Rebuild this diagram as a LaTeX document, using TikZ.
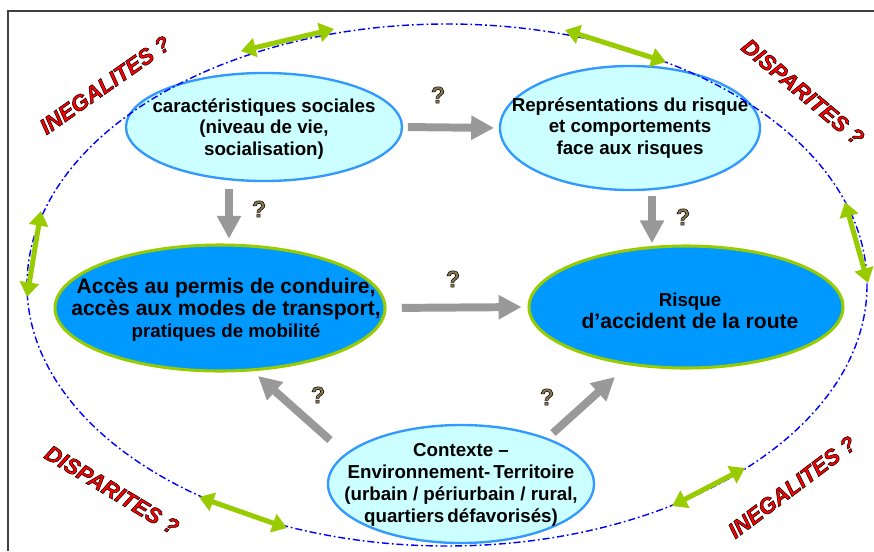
\documentclass[tikz,border=0pt]{standalone}
\usepackage{fontspec}
\setmainfont{Liberation Sans}
\usetikzlibrary{shapes.geometric,arrows.meta,calc}

\definecolor{ciel}{HTML}{CCFFFF}
\definecolor{bordbleu}{HTML}{3399FF}
\definecolor{bleufonce}{HTML}{0099FF}
\definecolor{vert}{HTML}{99CC00}
\definecolor{gris}{HTML}{999999}
\definecolor{brun}{RGB}{140,120,80}
\definecolor{cadre}{HTML}{404040}

% texte rempli et contourne en noir
\newcommand{\contourne}[2]{{\color{#1}\special{pdf:literal direct 2 Tr 0.45 w 0 0 0 RG}#2\special{pdf:literal direct 0 Tr}}}
\newcommand{\qmark}{\contourne{brun}{?}}
\newcommand{\motrouge}[1]{\contourne{red}{#1}}
\newcommand{\grand}{\fontsize{18}{19.5}\selectfont}

\tikzset{
  clair/.style={ellipse, draw=bordbleu, line width=2pt, fill=ciel, inner sep=0pt},
  fonce/.style={ellipse, draw=vert, line width=2.6pt, fill=bleufonce, inner sep=0pt},
  txt/.style={align=center, font=\bfseries\fontsize{16}{18.7}\selectfont},
  fleche/.style={draw=gris, line width=6.8pt, -{Triangle[length=19.6pt,width=19.6pt]}},
  lien/.style={draw=vert, line width=4.3pt, {Triangle[length=12.5pt,width=16pt]}-{Triangle[length=12.5pt,width=16pt]}},
  qm/.style={font=\bfseries\fontsize{20}{20}\selectfont},
  mot/.style={font=\bfseries\itshape\fontsize{19}{19}\selectfont},
}

\begin{document}
\begin{tikzpicture}[x=0.03cm,y=-0.03cm]
    \useasboundingbox (0,0) rectangle (874,551);
    \draw [cadre, line width=1.6pt] (8,551) -- (8,11) -- (874,11);

    % les cinq ellipses
    \node [clair, minimum width=8.28cm, minimum height=3.24cm] (soc) at (264,127) {};
    \node [clair, minimum width=7.8cm, minimum height=3.72cm] (rep) at (630,128) {};
    \node [fonce, minimum width=9.9cm, minimum height=3.78cm] (acc) at (220,308) {};
    \node [fonce, minimum width=9.42cm, minimum height=3.66cm] (risk) at (686,307) {};
    \node [clair, minimum width=7.98cm, minimum height=3.54cm] (ctx) at (461,484) {};

    \node [txt] (soc-t) at ([shift={(0,2)}]soc.center) {caractéristiques sociales\\ (niveau de vie,\\ socialisation)};
    \node [txt] (rep-t) at (rep.center) {Représentations du risque\\ et comportements\\ face aux risques};
    \node [txt] (acc-t) at ([shift={(6,2)}]acc.center) {\grand Accès au permis de conduire,\\ \grand accès aux modes de transport,\\ \fontsize{16}{19.5}\selectfont pratiques de mobilité};
    \node [txt] (risk-t) at ([shift={(4,4)}]risk.center) {\fontsize{16}{23}\selectfont Risque\\ \fontsize{18}{23}\selectfont d’accident de la route};
    \node [txt] (ctx-t) at ([shift={(0,1)}]ctx.center) {Contexte –\\ Environnement-\,Territoire\\ (urbain / périurbain / rural,\\ quartiers\,défavorisés)};

    % fleches grises
    \draw [fleche, shorten <=4pt, shorten >=4pt] (soc.east) -- (rep.west);
    \coordinate (b1) at ([shift={(-35,7)}]soc.south);
    \draw [fleche, shorten >=4pt] (b1) -- (b1 |- acc.north);
    \coordinate (c1) at ([shift={(22,5)}]rep.south);
    \draw [fleche, shorten >=1pt] (c1) -- (c1 |- risk.north);
    \draw [fleche, shorten <=13pt, shorten >=5pt] (acc.east) -- (risk.west);
    \draw [fleche] ([shift={(-131,-44)}]ctx.center) -- ([shift={(38,68)}]acc.center);
    \draw [fleche] ([shift={(92,-51)}]ctx.center) -- ([shift={(-71,70)}]risk.center);

    \node [qm] (q1) at (438,95) {\qmark};
    \node [qm] (q2) at (259,209) {\qmark};
    \node [qm] (q3) at (683,217) {\qmark};
    \node [qm] (q4) at (453,279) {\qmark};
    \node [qm] (q5) at (318,395) {\qmark};
    \node [qm] (q6) at (547,397) {\qmark};

    % grande ellipse
    \draw [blue, line width=1.2pt, dash pattern=on 6pt off 2.5pt on 1.5pt off 2.5pt]
        (447,285) ellipse [x radius=420, y radius=261];

    \draw [lien] (241,51) -- (334,29);
    \draw [lien] (565,30) -- (666,62);
    \draw [lien] (41,211) -- (27,297);
    \draw [lien] (845,202) -- (868,283);
    \draw [lien] (199,497) -- (287,528);
    \draw [lien] (672,506) -- (745,468);

    \node [mot, rotate=35] (m1) at (105,85) {\motrouge{INEGALITES ?}};
    \node [mot, rotate=-40] (m2) at (803,92) {\motrouge{DISPARITES ?}};
    \node [mot, rotate=-31] (m3) at (112,490) {\motrouge{DISPARITES ?}};
    \node [mot, rotate=37] (m4) at (792,487) {\motrouge{INEGALITES ?}};
\end{tikzpicture}
\end{document}
